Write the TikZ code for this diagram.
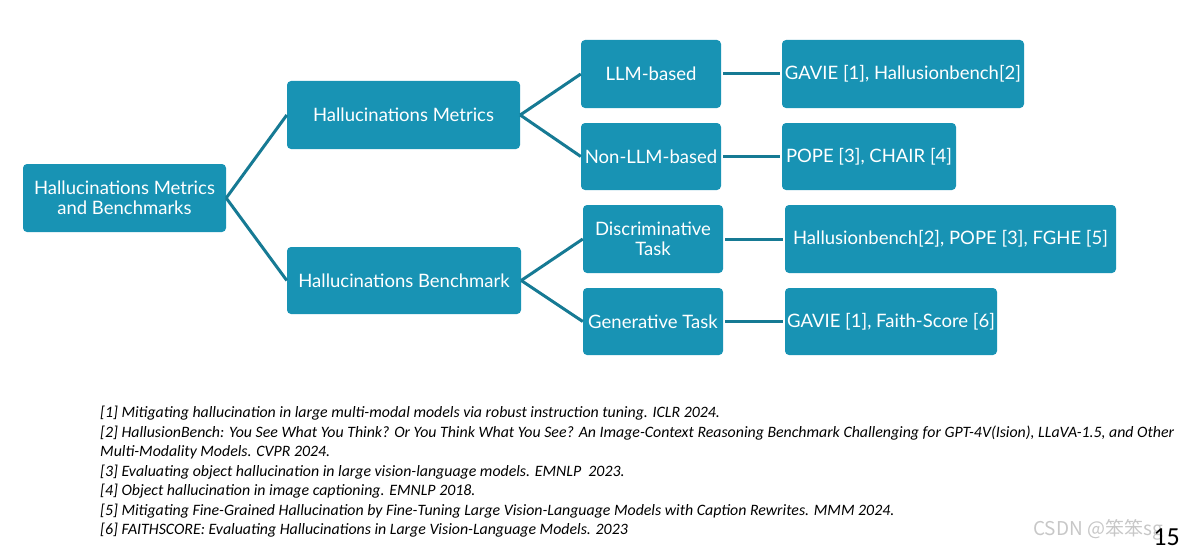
\documentclass[tikz,border=0pt]{standalone}
\usepackage{fontspec}
\newfontfamily\boxfont{Lato}
\newfontfamily\notefont{Carlito}
\newfontfamily\cjk{Noto Sans CJK SC}
\definecolor{boxc}{RGB}{24,147,180}
\definecolor{linec}{RGB}{22,122,148}
\begin{document}
\begin{tikzpicture}[x=1pt,y=-1pt,
  box/.style={fill=boxc, rounded corners=4pt, text=white, align=center, inner sep=0pt,
    font=\boxfont\fontsize{18.5}{20}\selectfont},
  edge/.style={draw=linec, line width=3pt}]
\useasboundingbox (0,0) rectangle (1189,551);
\node[box, minimum width=203pt, minimum height=68pt] (root) at (124.5,198) {Hallucinations Metrics\\and Benchmarks};
\node[box, minimum width=233pt, minimum height=68pt] (met) at (403.5,115) {Hallucinations Metrics};
\node[box, minimum width=234pt, minimum height=67pt] (ben) at (404,280.5) {Hallucinations Benchmark};
\node[box, minimum width=140pt, minimum height=68pt] (llm) at (651,74) {LLM-based};
\node[box, minimum width=140pt, minimum height=67pt] (nllm) at (651,156.5) {Non-LLM-based};
\node[box, minimum width=242pt, minimum height=68pt] (gav) at (903,74) {GAVIE [1], Hallusionbench[2]};
\node[box, minimum width=174pt, minimum height=67pt] (pope) at (869,156.5) {POPE [3], CHAIR [4]};
\node[box, minimum width=140pt, minimum height=68pt] (dis) at (653,239) {Discriminative\\Task};
\node[box, minimum width=140pt, minimum height=67pt] (gen) at (653,321.5) {Generative Task};
\node[box, minimum width=331pt, minimum height=68pt] (hb) at (950.5,239) {Hallusionbench[2], POPE [3], FGHE [5]};
\node[box, minimum width=212pt, minimum height=67pt] (gf) at (891,321.5) {GAVIE [1], Faith-Score [6]};
\draw[edge] (root.east) -- (met.west);
\draw[edge] (root.east) -- (ben.west);
\draw[edge] (met.east) -- (llm.west);
\draw[edge] (met.east) -- (nllm.west);
\draw[edge] (ben.east) -- (dis.west);
\draw[edge] (ben.east) -- (gen.west);
\draw[edge, shorten <=2pt, shorten >=2pt] (llm.east) -- (gav.west);
\draw[edge, shorten <=2pt, shorten >=2pt] (nllm.east) -- (pope.west);
\draw[edge, shorten <=2pt, shorten >=2pt] (dis.east) -- (hb.west);
\draw[edge, shorten <=2pt, shorten >=2pt] (gen.east) -- (gf.west);
\node[anchor=north west, inner sep=0pt, align=left, font=\notefont\itshape\fontsize{15.85}{19.5}\selectfont] (notes) at (100,406) {%
[1] Mitigating hallucination in large multi-modal models via robust instruction tuning. ICLR 2024.\\{}%
[2] HallusionBench: You See What You Think? Or You Think What You See? An Image-Context Reasoning Benchmark Challenging for GPT-4V(Ision), LLaVA-1.5, and Other\\{}%
Multi-Modality Models. CVPR 2024.\\{}%
[3] Evaluating object hallucination in large vision-language models. EMNLP\ \ 2023.\\{}%
[4] Object hallucination in image captioning. EMNLP 2018.\\{}%
[5] Mitigating Fine-Grained Hallucination by Fine-Tuning Large Vision-Language Models with Caption Rewrites. MMM 2024.\\{}%
[6] FAITHSCORE: Evaluating Hallucinations in Large Vision-Language Models. 2023};
\node[anchor=west, inner sep=0pt, text=black!22, font=\cjk\fontsize{19}{22}\selectfont] (wm) at (1033,530) {CSDN @笨笨sg};
\node[anchor=east, inner sep=0pt, font=\notefont\fontsize{26}{30}\selectfont] (pg) at (1180,537) {15};
\end{tikzpicture}
\end{document}
